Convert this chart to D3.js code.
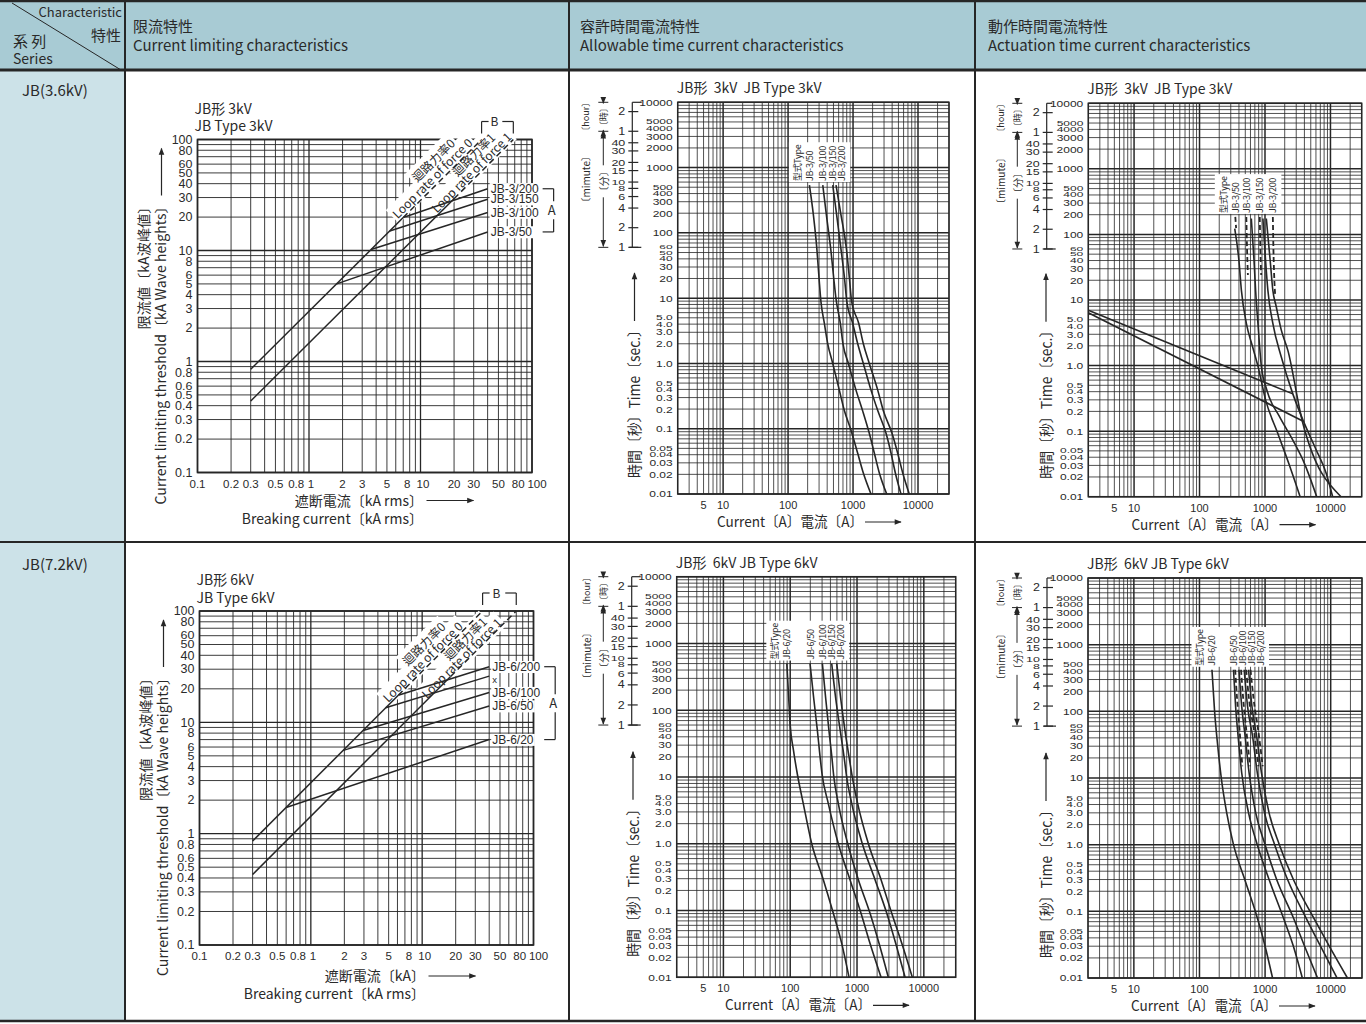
<!DOCTYPE html>
<html>
<head>
<meta charset="utf-8">
<script src="https://cdn.jsdelivr.net/npm/d3@7/dist/d3.min.js"></script>
<style>
  body { margin: 0; background: #fff; }
  svg text { font-family: "Noto Sans CJK JP", "Noto Sans", sans-serif; fill: #2a2a2a; }
  svg text.num { font-family: "Liberation Sans Narrow", "Liberation Sans", sans-serif; }
  svg text.tag { font-family: "Liberation Sans", sans-serif; }
</style>
</head>
<body>
<svg id="sheet" width="1366" height="1024"></svg>
<script>
// ---- tick labels ----
var clXTicks = [0.1, 0.2, 0.3, 0.5, 0.8, 1, 2, 3, 5, 8, 10, 20, 30, 50, 80, 100];
var clYTicks = [100, 80, 60, 50, 40, 30, 20, 10, 8, 6, 5, 4, 3, 2, 1, 0.8, 0.6, 0.5, 0.4, 0.3, 0.2, 0.1];
var tcXTicks = [5, 10, 100, 1000, 10000];
var tcYTicks = [10000, 5000, 4000, 3000, 2000, 1000, 500, 400, 300, 200, 100, 60, 50, 40, 30, 20, 10,
                5, 4, 3, 2, 1, 0.5, 0.4, 0.3, 0.2, 0.1, 0.05, 0.04, 0.03, 0.02, 0.01];
var tcYLabels = ["10000", "5000", "4000", "3000", "2000", "1000", "500", "400", "300", "200", "100", "60", "50", "40", "30", "20", "10",
                 "5.0", "4.0", "3.0", "2.0", "1.0", "0.5", "0.4", "0.3", "0.2", "0.1", "0.05", "0.04", "0.03", "0.02", "0.01"];
var hourTicks = [2, 1];
var minuteTicks = [40, 30, 20, 15, 10, 8, 6, 4, 2, 1];

// ---- current limiting 3kV : [breaking kA rms, peak kA] ----
var loop0_3kV = [[0.3, 0.85], [7.0, 19.8], [35.3, 100]];
var loop1_3kV = [[0.3, 0.44], [20, 29.3], [68, 100]];
var names3kV = ["JB-3/200", "JB-3/150", "JB-3/100", "JB-3/50"];
var lim3_200 = [[7.0, 19.8], [40, 36]];
var lim3_150 = [[5.3, 15], [40, 29]];
var lim3_100 = [[3.6, 10.2], [40, 22]];
var lim3_50 = [[1.77, 5], [40, 14.7]];

// ---- current limiting 6kV ----
var loop0_6kV = [[0.3, 0.86], [6.1, 17.5], [34.9, 100]];
var loop1_6kV = [[0.3, 0.43], [18, 25.8], [70, 100]];
var names6kV = ["JB-6/200", "x", "JB-6/100", "JB-6/50", "JB-6/20"];
var lim6_200 = [[6.1, 17.5], [40, 31.6]];
var lim6_x = [[4.7, 13.5], [40, 26]];
var lim6_100 = [[2.95, 8.45], [40, 18.5]];
var lim6_50 = [[1.96, 5.6], [40, 14]];
var lim6_20 = [[0.6, 1.72], [40, 7]];

// ---- allowable time-current 3kV : [current A, time s] ----
var typeLabel = "型式Type";
var tcNames3 = ["JB-3/50", "JB-3/100", "JB-3/150", "JB-3/200"];
var allow3_50 = [[213, 540], [245, 190], [277, 58], [300, 20], [320, 9], [362, 4.1], [408, 2], [487, 1], [615, 0.39], [735, 0.19], [930, 0.095], [1180, 0.042], [1440, 0.021], [1890, 0.01]];
var allow3_100 = [[342, 540], [394, 170], [459, 51], [505, 20], [545, 10], [638, 4.1], [700, 2], [848, 1], [1110, 0.39], [1400, 0.19], [1780, 0.085], [2130, 0.042], [2540, 0.021], [3300, 0.01]];
var allow3_150 = [[487, 540], [560, 187], [650, 58], [740, 20], [800, 9], [989, 4.1], [1180, 2], [1440, 1], [1890, 0.39], [2400, 0.19], [3220, 0.085], [3850, 0.042], [4480, 0.021], [5470, 0.01]];
var allow3_200 = [[547, 540], [653, 187], [790, 58], [880, 20], [950, 9], [1225, 4.1], [1440, 2], [1780, 1], [2400, 0.39], [2920, 0.19], [3980, 0.085], [4870, 0.042], [5820, 0.021], [7340, 0.01]];

// ---- actuation time-current 3kV ----
var act3_50 = [[345, 123], [400, 40], [436, 14], [519, 4.4], [640, 2], [780, 0.98], [1021, 0.3], [1571, 0.092], [2310, 0.032], [3440, 0.01]];
var act3_100 = [[618, 175], [680, 40], [719, 14], [780, 4.4], [879, 0.98], [1069, 0.42], [1667, 0.166], [2660, 0.073], [4010, 0.032], [6170, 0.01]];
var act3_150 = [[929, 175], [1020, 40], [1107, 14], [1318, 4.4], [1770, 1.36], [2660, 0.37], [4010, 0.13], [6040, 0.052], [8570, 0.023], [10800, 0.01]];
var act3_200 = [[1047, 175], [1200, 40], [1318, 14], [1486, 7.9], [1770, 3.5], [2230, 1.72], [3700, 0.144], [14500, 0.01]];
var act3_50d = [[352, 185], [362, 125]];
var act3_100d = [[519, 185], [532, 60], [548, 24]];
var act3_150d = [[832, 185], [850, 60], [875, 24]];
var act3_200d = [[1318, 185], [1345, 60], [1390, 20], [1430, 12]];
var relay3_a = [[2, 7.0], [2660, 0.37]];
var relay3_b = [[2, 6.4], [3700, 0.144]];

// ---- allowable time-current 6kV ----
var tcNames6 = ["JB-6/20", "JB-6/50", "JB-6/100", "JB-6/150", "JB-6/200"];
var allow6_20 = [[89, 500], [95, 150], [100, 60], [112, 25], [128, 11], [157, 4], [210, 1], [313, 0.29], [442, 0.091], [591, 0.032], [760, 0.01]];
var allow6_50 = [[198, 500], [225, 150], [255, 50], [280, 20], [300, 11], [372, 4], [525, 1], [785, 0.29], [1148, 0.091], [1567, 0.032], [2290, 0.01]];
var allow6_100 = [[303, 500], [340, 150], [380, 50], [420, 20], [450, 10], [525, 4], [726, 1], [1047, 0.29], [1567, 0.091], [2140, 0.032], [2940, 0.01]];
var allow6_150 = [[418, 500], [480, 150], [560, 50], [640, 20], [700, 10], [834, 4], [1202, 1], [1862, 0.29], [2790, 0.091], [3800, 0.032], [5240, 0.01]];
var allow6_200 = [[497, 500], [570, 150], [660, 50], [760, 20], [850, 10], [1023, 4], [1480, 1], [2290, 0.29], [3310, 0.091], [4690, 0.032], [6730, 0.01]];

// ---- actuation time-current 6kV ----
var act6_20 = [[155, 420], [170, 100], [190, 30], [215, 10], [260, 3], [330, 1], [490, 0.3], [760, 0.08], [1000, 0.03], [1300, 0.01]];
var act6_50 = [[330, 420], [355, 120], [390, 40], [440, 12], [560, 3], [760, 1], [1150, 0.3], [1900, 0.08], [2700, 0.03], [3700, 0.01]];
var act6_100 = [[400, 420], [440, 120], [500, 40], [570, 12], [720, 3], [1000, 1], [1500, 0.3], [2700, 0.08], [4000, 0.03], [6300, 0.01]];
var act6_150 = [[480, 420], [540, 120], [650, 40], [760, 12], [980, 3], [1400, 1], [2200, 0.3], [4200, 0.08], [7000, 0.03], [12500, 0.01]];
var act6_200 = [[560, 420], [630, 120], [750, 40], [880, 12], [1150, 3], [1650, 1], [2700, 0.3], [5500, 0.08], [9500, 0.03], [18000, 0.01]];
var act6_50d = [[350, 420], [375, 150], [410, 50], [450, 15]];
var act6_100d = [[430, 420], [465, 150], [520, 50], [590, 15]];
var act6_150d = [[515, 420], [570, 150], [680, 50], [790, 15]];
var act6_200d = [[600, 420], [670, 150], [790, 50], [920, 15]];

// ---------------------------------------------------------------
var svg = d3.select("#sheet");
var ink = "#262626";
var defs = svg.append("defs");
defs.append("marker").attr("id", "arrow").attr("viewBox", "0 0 10 10")
  .attr("refX", 9).attr("refY", 5).attr("markerWidth", 9).attr("markerHeight", 7)
  .attr("markerUnits", "userSpaceOnUse").attr("orient", "auto-start-reverse")
  .append("path").attr("d", "M0,1L10,5L0,9Z").attr("fill", ink);

function isDecade(v) { var l = Math.log10(v); return Math.abs(l - Math.round(l)) < 1e-6; }
function logAt(line, xv) {
  for (var i = 0; i < line.length - 1; i++) {
    var a = line[i], b = line[i + 1];
    if (xv >= a[0] && xv <= b[0]) {
      var t = (Math.log(xv) - Math.log(a[0])) / (Math.log(b[0]) - Math.log(a[0]));
      return Math.exp(Math.log(a[1]) + t * (Math.log(b[1]) - Math.log(a[1])));
    }
  }
  return line[line.length - 1][1];
}
function hline(g, x1, x2, y, w) {
  return g.append("line").attr("x1", x1).attr("x2", x2).attr("y1", y).attr("y2", y)
    .attr("stroke", ink).attr("stroke-width", w || 1);
}
function vline(g, x, y1, y2, w) {
  return g.append("line").attr("x1", x).attr("x2", x).attr("y1", y1).attr("y2", y2)
    .attr("stroke", ink).attr("stroke-width", w || 1);
}
function label(g, x, y, txt, size) {
  return g.append("text").attr("x", x).attr("y", y).attr("font-size", size || 14).text(txt);
}
// stacked scale labels: crowded ones are flattened like the printed digits
function stackLabels(g, x, ys, texts, size, maxSy, k) {
  ys.forEach(function(py, i) {
    var gap = 1e9;
    if (i > 0) gap = Math.min(gap, Math.abs(py - ys[i - 1]));
    if (i < ys.length - 1) gap = Math.min(gap, Math.abs(ys[i + 1] - py));
    var sy = Math.max(0.45, Math.min(maxSy, gap / k));
    g.append("text").attr("class", "num").attr("transform", "translate(" + x + "," + py + ") scale(1," + sy + ")")
      .attr("dy", "0.36em").attr("text-anchor", "end").attr("font-size", size).text(texts[i]);
  });
}

// ---- table frame ----
svg.append("rect").attr("x", 0).attr("y", 0).attr("width", 1366).attr("height", 70).attr("fill", "#a8cbd4");
svg.append("rect").attr("x", 0).attr("y", 70).attr("width", 125).attr("height", 951).attr("fill", "#cce2e8");
hline(svg, 0, 1366, 1, 2.5);
hline(svg, 0, 1366, 70, 3);
hline(svg, 0, 1366, 542, 2);
hline(svg, 0, 1366, 1021, 2.5);
[125, 569, 975].forEach(function(x) { vline(svg, x, 0, 1021, 2); });
svg.append("line").attr("x1", 12).attr("y1", 3).attr("x2", 121).attr("y2", 70).attr("stroke", ink).attr("stroke-width", 1);
label(svg, 122, 17, "Characteristic", 13).attr("text-anchor", "end");
label(svg, 121, 41, "特性", 15).attr("text-anchor", "end");
label(svg, 13, 47, "系 列", 15);
label(svg, 13, 64, "Series", 14);
label(svg, 133, 32, "限流特性", 15);
label(svg, 133, 51, "Current limiting characteristics", 15);
label(svg, 580, 32, "容許時間電流特性", 15);
label(svg, 580, 51, "Allowable time current characteristics", 15);
label(svg, 988, 32, "動作時間電流特性", 15);
label(svg, 988, 51, "Actuation time current characteristics", 15);
label(svg, 22, 96, "JB(3.6kV)", 15);
label(svg, 22, 570, "JB(7.2kV)", 15);

// ---- current limiting chart ----
function clChart(geo, c) {
  var x = d3.scaleLog().domain([0.1, 100]).range([geo.x0, geo.x1]);
  var y = d3.scaleLog().domain([0.1, 100]).range([geo.y1, geo.y0]);
  var gGrid = svg.append("g"), gBg = svg.append("g"), gLine = svg.append("g"), gText = svg.append("g");
  var line = d3.line().x(function(d) { return x(d[0]); }).y(function(d) { return y(d[1]); });

  gGrid.selectAll(".v").data(x.ticks()).join("line")
    .attr("x1", function(d) { return x(d); }).attr("x2", function(d) { return x(d); })
    .attr("y1", geo.y0).attr("y2", geo.y1)
    .attr("stroke", ink).attr("stroke-width", function(d) { return isDecade(d) ? 1.3 : 0.9; });
  gGrid.selectAll(".h").data(y.ticks()).join("line")
    .attr("y1", function(d) { return y(d); }).attr("y2", function(d) { return y(d); })
    .attr("x1", geo.x0).attr("x2", geo.x1)
    .attr("stroke", ink).attr("stroke-width", function(d) { return isDecade(d) ? 1.3 : 0.9; });
  gGrid.append("rect").attr("x", geo.x0).attr("y", geo.y0).attr("width", geo.x1 - geo.x0)
    .attr("height", geo.y1 - geo.y0).attr("fill", "none").attr("stroke", ink).attr("stroke-width", 1.6);

  // close pairs (0.8/1, 8/10, 80/100) are nudged apart as on the printed sheet
  var nudge = { 0.8: -2, 1: 2, 8: -2.5, 10: 2.5, 80: -3, 100: 5 };
  gText.selectAll(".xt").data(clXTicks).join("text").attr("class", "num")
    .attr("x", function(d) { return x(d) + (nudge[d] || 0); }).attr("y", geo.y1 + 15)
    .attr("text-anchor", "middle").attr("font-size", 11.5).text(function(d) { return d; });
  stackLabels(gText, geo.x0 - 5, clYTicks.map(function(d) { return y(d); }), clYTicks, 12.5, 0.95, 10.5);

  // titles
  label(gText, geo.x0 - 3, geo.y0 - 26, c.title[0], 14);
  label(gText, geo.x0 - 3, geo.y0 - 8.5, c.title[1], 14);
  gText.append("text").attr("transform", "translate(" + (geo.x0 - 55) + "," + (geo.y0 + 60) + ") rotate(-90)")
    .attr("text-anchor", "end").attr("dominant-baseline", "central").attr("font-size", 14)
    .attr("textLength", 130).attr("lengthAdjust", "spacingAndGlyphs").text("限流値〔kA波峰値〕");
  gText.append("text").attr("transform", "translate(" + (geo.x0 - 38) + "," + (geo.y0 + 60) + ") rotate(-90)")
    .attr("text-anchor", "end").attr("dominant-baseline", "central").attr("font-size", 14)
    .attr("textLength", 305).attr("lengthAdjust", "spacing").text("Current limiting threshold〔kA Wave heights〕");
  gLine.append("line").attr("x1", geo.x0 - 36).attr("x2", geo.x0 - 36).attr("y1", geo.y0 + 56).attr("y2", geo.y0 + 9)
    .attr("stroke", ink).attr("stroke-width", 1.2).attr("marker-end", "url(#arrow)");
  label(gText, geo.x0 + 225.5, geo.y1 + c.xt1, c.xTitle, 14).attr("text-anchor", "end");
  label(gText, geo.x0 + 225.5, geo.y1 + c.xt2, "Breaking current〔kA rms〕", 14).attr("text-anchor", "end");
  gLine.append("line").attr("x1", geo.x0 + 229).attr("x2", geo.x0 + 276)
    .attr("y1", geo.y1 + c.xt1 - 5).attr("y2", geo.y1 + c.xt1 - 5)
    .attr("stroke", ink).attr("stroke-width", 1.2).attr("marker-end", "url(#arrow)");

  // loop rate lines (solid part then dashed part)
  c.loops.forEach(function(L) {
    gLine.append("path").attr("d", line(L.slice(0, 2))).attr("fill", "none").attr("stroke", ink).attr("stroke-width", 1.5);
    gLine.append("path").attr("d", line(L.slice(1))).attr("fill", "none").attr("stroke", ink)
      .attr("stroke-width", 1.5).attr("stroke-dasharray", "6,4");
  });
  // rating lines + labels
  c.ratings.forEach(function(r, i) {
    gLine.append("path").attr("d", line(r)).attr("fill", "none").attr("stroke", ink).attr("stroke-width", 1.5);
    var end = r[r.length - 1];
    var small = c.names[i] === "x";
    var t = gText.append("text").attr("class", "tag").attr("x", x(end[0]) + 3).attr("y", y(end[1]) + (small ? 3 : 0))
      .attr("dy", "0.36em").attr("font-size", small ? 9.5 : 12).text(c.names[i]);
    var bb = t.node().getBBox();
    gBg.append("rect").attr("x", bb.x - 1).attr("y", bb.y + 1).attr("width", bb.width + 2).attr("height", bb.height - 2)
      .attr("fill", "#fff");
  });
  // bracket A
  var topY = y(c.ratings[0][c.ratings[0].length - 1][1]);
  var botY = y(c.ratings[c.ratings.length - 1][c.ratings[c.ratings.length - 1].length - 1][1]);
  var bx = x(40) + 66;
  hline(gLine, bx - 11, bx, topY, 1.2);
  hline(gLine, bx - 11, bx, botY, 1.2);
  vline(gLine, bx, topY, (topY + botY) / 2 - 9, 1.2);
  vline(gLine, bx, (topY + botY) / 2 + 9, botY, 1.2);
  label(gText, bx - 2, (topY + botY) / 2 + 5, "A", 13).attr("text-anchor", "middle");
  // bracket B over the dashed ends
  var bl = x(c.loops[0][2][0]), br = x(c.loops[1][2][0]), by = geo.y0 - c.bOff;
  vline(gLine, bl, by, geo.y0 - 6, 1.2); hline(gLine, bl, bl + 7, by, 1.2);
  vline(gLine, br, by, geo.y0 - 6, 1.2); hline(gLine, br - 11, br, by, 1.2);
  label(gText, (bl + br) / 2 - 3, by + 4.5, "B", 12).attr("text-anchor", "middle");

  // loop-rate labels along the lines
  c.loopLabels.forEach(function(L) {
    var yv = logAt(L.line, L.at);
    var tr = "translate(" + x(L.at) + "," + y(yv) + ") rotate(-45)";
    var t = gText.append("g").attr("transform", tr).append("text")
      .attr("x", 0).attr("y", -L.d).attr("dy", "0.36em").attr("text-anchor", "middle")
      .attr("font-size", 12).text(L.text);
    var bb = t.node().getBBox();
    gBg.append("g").attr("transform", tr).append("rect")
      .attr("x", bb.x - 2).attr("y", bb.y - 1).attr("width", bb.width + 4).attr("height", bb.height + 2).attr("fill", "#fff");
  });
}

clChart({ x0: 197.5, x1: 532, y0: 139.5, y1: 472.5 }, {
  title: ["JB形 3kV", "JB Type 3kV"], xTitle: "遮断電流〔kA rms〕", xt1: 33, xt2: 51, bOff: 18,
  loops: [loop0_3kV, loop1_3kV],
  ratings: [lim3_200, lim3_150, lim3_100, lim3_50], names: names3kV,
  loopLabels: [
    { line: loop0_3kV, at: 14.2, d: 7, text: "Loop rate of force 0" },
    { line: loop0_3kV, at: 17.3, d: 19, text: "迴路力率0" },
    { line: loop1_3kV, at: 31.4, d: 6, text: "Loop rate of force 1" },
    { line: loop1_3kV, at: 38.6, d: 17, text: "迴路力率1" }
  ]
});
clChart({ x0: 199.5, x1: 533.5, y0: 611, y1: 945 }, {
  title: ["JB形 6kV", "JB Type 6kV"], xTitle: "遮断電流〔kA〕", xt1: 36, xt2: 54, bOff: 18,
  loops: [loop0_6kV, loop1_6kV],
  ratings: [lim6_200, lim6_x, lim6_100, lim6_50, lim6_20], names: names6kV,
  loopLabels: [
    { line: loop0_6kV, at: 11.1, d: 6, text: "Loop rate of force 0" },
    { line: loop0_6kV, at: 13.5, d: 18, text: "迴路力率0" },
    { line: loop1_6kV, at: 24.4, d: 5, text: "Loop rate of force 1" },
    { line: loop1_6kV, at: 31, d: 16, text: "迴路力率1" }
  ]
});

// ---- time-current chart ----
function tcChart(geo, c) {
  var x = d3.scaleLog().domain([2, 30000]).range([geo.x0, geo.x1]);
  var y = d3.scaleLog().domain([0.01, 10000]).range([geo.y1, geo.y0]);
  var gGrid = svg.append("g"), gBg = svg.append("g"), gLine = svg.append("g"), gText = svg.append("g");
  var line = d3.line().x(function(d) { return x(d[0]); }).y(function(d) { return y(d[1]); }).curve(d3.curveMonotoneX);

  gGrid.selectAll(".v").data(x.ticks()).join("line")
    .attr("x1", function(d) { return x(d); }).attr("x2", function(d) { return x(d); })
    .attr("y1", geo.y0).attr("y2", geo.y1)
    .attr("stroke", ink).attr("stroke-width", function(d) { return isDecade(d) ? 1.5 : 0.8; });
  gGrid.selectAll(".h").data(y.ticks()).join("line")
    .attr("y1", function(d) { return y(d); }).attr("y2", function(d) { return y(d); })
    .attr("x1", geo.x0).attr("x2", geo.x1)
    .attr("stroke", ink).attr("stroke-width", function(d) { return isDecade(d) ? 1.5 : 0.8; });
  gGrid.append("rect").attr("x", geo.x0).attr("y", geo.y0).attr("width", geo.x1 - geo.x0)
    .attr("height", geo.y1 - geo.y0).attr("fill", "none").attr("stroke", ink).attr("stroke-width", 1.5);

  gText.selectAll(".xt").data(tcXTicks).join("text").attr("class", "num")
    .attr("x", function(d) { return x(d); }).attr("y", geo.y1 + 15)
    .attr("text-anchor", "middle").attr("font-size", 11).text(function(d) { return d; });
  stackLabels(gText, geo.x0 - 5, tcYTicks.map(function(d) { return y(d); }), tcYLabels, 12, 0.8, 11);

  // title
  label(gText, geo.x0 - 1, geo.y0 - 9, c.title, 14).style("white-space", "pre");

  // hour / minute side scale
  var ax = geo.ax;
  vline(gLine, ax, y(10000), y(60), 1.2);
  hline(gLine, ax, geo.x0 - 36, y(10000), 1.2);
  hline(gLine, ax - 3, ax + 9, y(60), 1.2);
  var sideVals = hourTicks.concat(minuteTicks);
  var sideY = sideVals.map(function(v, i) { return y(i < hourTicks.length ? v * 3600 : v * 60); });
  sideY.forEach(function(py) { hline(gLine, ax - 4, ax + 6, py, 1.2); });
  stackLabels(gText, ax - 7, sideY, sideVals, 12.5, 0.8, 11);
  var dx = geo.dimX;
  [10000, 3600, 60].forEach(function(s) { hline(gLine, dx - 5, dx + 5, y(s), 1); });
  [[10000, 3600, "〔時〕", 9], [3600, 60, "〔分〕", 10]].forEach(function(s) {
    var ya = y(s[0]) + 1, yb = y(s[1]) - 1, mid = s[1] === 60 ? (ya + yb) / 2 - 8 : (ya + yb) / 2;
    var half = s[3] * 1.6;
    gLine.append("line").attr("x1", dx).attr("x2", dx).attr("y1", mid - half).attr("y2", ya)
      .attr("stroke", ink).attr("marker-end", "url(#arrow)");
    gLine.append("line").attr("x1", dx).attr("x2", dx).attr("y1", mid + half).attr("y2", yb)
      .attr("stroke", ink).attr("marker-end", "url(#arrow)");
    gText.append("text").attr("transform", "translate(" + dx + "," + mid + ") rotate(-90)")
      .attr("text-anchor", "middle").attr("dominant-baseline", "central").attr("font-size", s[3]).text(s[2]);
  });
  gText.append("text").attr("transform", "translate(" + geo.hourX + "," + ((y(10000) + y(3600)) / 2) + ") rotate(-90)")
    .attr("text-anchor", "middle").attr("dominant-baseline", "central").attr("font-size", 9).text("〔hour〕");
  gText.append("text").attr("transform", "translate(" + geo.hourX + "," + ((y(3600) + y(60)) / 2 - 10) + ") rotate(-90)")
    .attr("text-anchor", "middle").attr("dominant-baseline", "central").attr("font-size", 10).text("〔mimute〕");

  // axis titles
  gText.append("text").attr("transform", "translate(" + geo.ytX + "," + (geo.y1 - geo.ytB) + ") rotate(-90)")
    .attr("dominant-baseline", "central").attr("font-size", 15)
    .attr("textLength", 155).attr("lengthAdjust", "spacingAndGlyphs").text("時間〔秒〕Time〔sec.〕");
  gLine.append("line").attr("x1", geo.ytX + 1).attr("x2", geo.ytX + 1)
    .attr("y1", geo.y1 - geo.ytB - 157).attr("y2", geo.y1 - geo.ytB - 205)
    .attr("stroke", ink).attr("stroke-width", 1.2).attr("marker-end", "url(#arrow)");
  gText.append("text").attr("x", geo.xtA).attr("y", geo.y1 + 33).attr("font-size", 14.5)
    .attr("textLength", 146).attr("lengthAdjust", "spacingAndGlyphs").text("Current〔A〕電流〔A〕");
  gLine.append("line").attr("x1", geo.xtA + 148).attr("x2", geo.xtA + 184)
    .attr("y1", geo.y1 + 28).attr("y2", geo.y1 + 28)
    .attr("stroke", ink).attr("stroke-width", 1.2).attr("marker-end", "url(#arrow)");

  // curves
  (c.relay || []).forEach(function(r) {
    gLine.append("path").attr("d", line(r)).attr("fill", "none").attr("stroke", ink).attr("stroke-width", 1.6);
  });
  (c.dashed || []).forEach(function(r) {
    gLine.append("path").attr("d", line(r)).attr("fill", "none").attr("stroke", ink)
      .attr("stroke-width", 1.8).attr("stroke-dasharray", "5,3");
  });
  c.solid.forEach(function(r) {
    gLine.append("path").attr("d", line(r)).attr("fill", "none").attr("stroke", ink).attr("stroke-width", 1.6);
  });

  // type label block (vertical text columns)
  var base = d3.min(c.labelRef, function(r) { return y(r[0][1]); }) - 4;
  var gl = gText.append("g");
  var prev = -1e9, cols = [];
  c.labelRef.forEach(function(r) {
    var cx = Math.max(x(r[0][0]), prev + 9);
    cols.push(cx); prev = cx;
  });
  [typeLabel].concat(c.names).forEach(function(n, i) {
    var cx = i === 0 ? cols[0] - 12 : cols[i - 1];
    gl.append("text").attr("transform", "translate(" + cx + "," + base + ") rotate(-90)")
      .attr("dominant-baseline", "central").attr("font-size", 9).attr("letter-spacing", -0.3).text(n);
  });
  var bb = gl.node().getBBox();
  gBg.append("rect").attr("x", bb.x - 2).attr("y", bb.y - 2).attr("width", bb.width + 4).attr("height", bb.height + 3)
    .attr("fill", "#fff");
}

tcChart({ x0: 677.7, x1: 949, y0: 102.3, y1: 494, ax: 632.3, dimX: 603.3, hourX: 585, ytX: 633.5, ytB: 16, xtA: 717 }, {
  title: "JB形  3kV  JB Type 3kV", names: tcNames3,
  solid: [allow3_50, allow3_100, allow3_150, allow3_200],
  labelRef: [allow3_50, allow3_100, allow3_150, allow3_200]
});
tcChart({ x0: 1088.3, x1: 1361.7, y0: 103.3, y1: 496.7, ax: 1046.7, dimX: 1017.3, hourX: 1000, ytX: 1045, ytB: 18, xtA: 1131.5 }, {
  title: "JB形  3kV  JB Type 3kV", names: tcNames3,
  solid: [act3_50, act3_100, act3_150, act3_200],
  dashed: [act3_50d, act3_100d, act3_150d, act3_200d],
  relay: [relay3_a, relay3_b],
  labelRef: [act3_50d, act3_100d, act3_150d, act3_200d]
});
tcChart({ x0: 676.7, x1: 955.7, y0: 576.7, y1: 977.3, ax: 631.7, dimX: 603.3, hourX: 586.7, ytX: 632, ytB: 20.5, xtA: 725 }, {
  title: "JB形  6kV JB Type 6kV", names: tcNames6,
  solid: [allow6_20, allow6_50, allow6_100, allow6_150, allow6_200],
  labelRef: [allow6_20, allow6_50, allow6_100, allow6_150, allow6_200]
});
tcChart({ x0: 1088, x1: 1362, y0: 578, y1: 978, ax: 1047, dimX: 1017, hourX: 1000, ytX: 1045, ytB: 20, xtA: 1131 }, {
  title: "JB形  6kV JB Type 6kV", names: tcNames6,
  solid: [act6_20, act6_50, act6_100, act6_150, act6_200],
  dashed: [act6_50d, act6_100d, act6_150d, act6_200d],
  labelRef: [act6_20, act6_50, act6_100, act6_150, act6_200]
});
</script>
</body>
</html>
